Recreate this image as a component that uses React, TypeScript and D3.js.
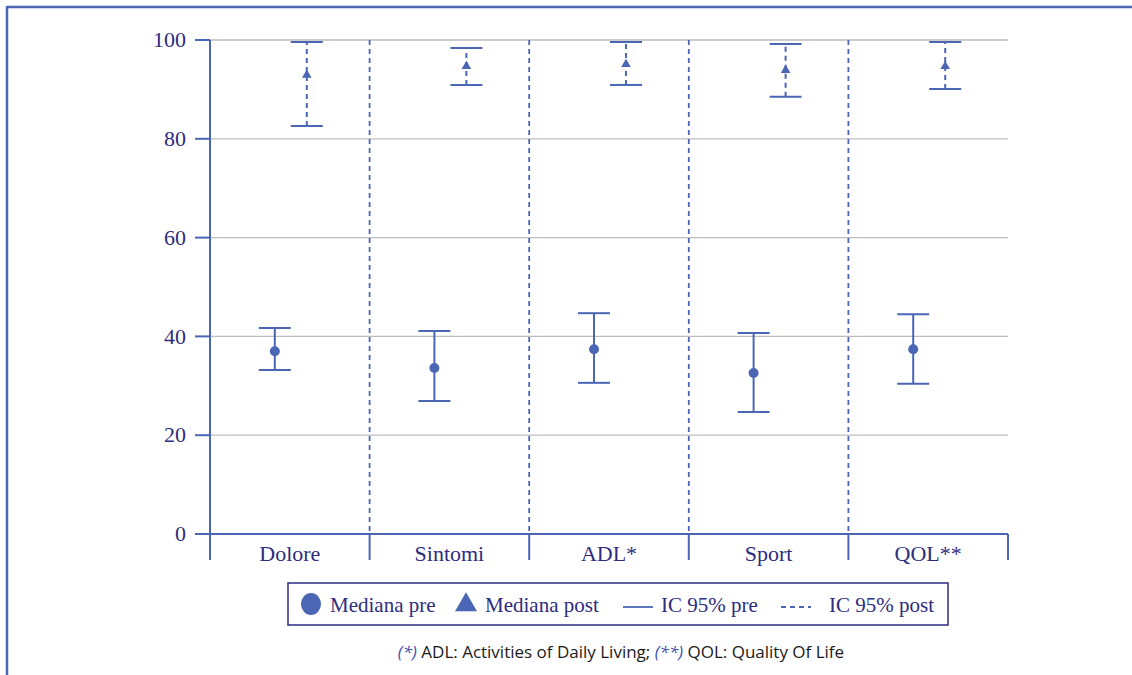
import React from "react";
import * as d3 from "d3";

const categories = ["Dolore", "Sintomi", "ADL*", "Sport", "QOL**"];
const preMedian = [37.0, 33.6, 37.4, 32.6, 37.4];
const preLow = [33.2, 26.9, 30.6, 24.7, 30.4];
const preHigh = [41.7, 41.1, 44.7, 40.7, 44.5];
const postMedian = [92.9, 94.7, 95.1, 93.9, 94.7];
const postLow = [82.6, 90.9, 90.9, 88.5, 90.1];
const postHigh = [99.6, 98.4, 99.6, 99.2, 99.6];
const yTicks = [0, 20, 40, 60, 80, 100];

const LINE = "#4a66b4";
const TEXT = "#2e2c80";
const SERIF = "Liberation Serif, Times New Roman, DejaVu Serif, serif";

export default function App() {
  const W = 1132, H = 675;
  const left = 210, right = 1008, top = 40, bottom = 534;
  const x = d3.scaleBand<string>().domain(categories).range([left, right]);
  const y = d3.scaleLinear().domain([0, 100]).range([bottom, top]);
  const bw = x.bandwidth();
  const preOff = bw * 0.5 - 15;
  const postOff = bw * 0.5 + 17;
  const cap = 16;
  const tri = d3.symbol().type(d3.symbolTriangle).size(40)() as string;
  const triLeg = d3.symbol().type(d3.symbolTriangle).size(210)() as string;

  return (
    <svg width={W} height={H} style={{ position: "absolute", left: 0, top: 0 }}>
      <rect width={W} height={H} fill="#fff" />
      <line x1={7} x2={W} y1={7} y2={7} stroke={LINE} strokeWidth={2.5} />
      <line x1={7} x2={7} y1={6} y2={H} stroke={LINE} strokeWidth={2.5} />
      {yTicks.filter(t => t > 0).map(t => (
        <line key={t} x1={left} x2={right} y1={y(t)} y2={y(t)} stroke="#bdbdbd" strokeWidth={1.3} />
      ))}
      {categories.slice(1).map(c => (
        <line key={c} x1={x(c)!} x2={x(c)!} y1={top} y2={bottom} stroke={LINE} strokeWidth={1.8} strokeDasharray="5,4" />
      ))}
      <line x1={left} x2={left} y1={top} y2={560} stroke={LINE} strokeWidth={2} />
      <line x1={195} x2={right} y1={bottom} y2={bottom} stroke={LINE} strokeWidth={2} />
      {categories.slice(1).map(c => (
        <line key={c} x1={x(c)!} x2={x(c)!} y1={bottom} y2={560} stroke={LINE} strokeWidth={2} />
      ))}
      <line x1={right} x2={right} y1={bottom} y2={560} stroke={LINE} strokeWidth={2} />
      {yTicks.map(t => (
        <g key={t}>
          <line x1={195} x2={left} y1={y(t)} y2={y(t)} stroke={LINE} strokeWidth={2} />
          <text x={186} y={y(t)} dy="0.33em" textAnchor="end" style={{ fontFamily: SERIF }} fontSize={22} fill={TEXT}>{t}</text>
        </g>
      ))}
      {categories.map(c => (
        <text key={c} x={x(c)! + bw / 2} y={561} textAnchor="middle" style={{ fontFamily: SERIF }} fontSize={22} fill={TEXT}>{c}</text>
      ))}
      {categories.map((c, i) => {
        const cx = x(c)! + preOff;
        return (
          <g key={c}>
            <line x1={cx} x2={cx} y1={y(preLow[i])} y2={y(preHigh[i])} stroke={LINE} strokeWidth={2} />
            <line x1={cx - cap} x2={cx + cap} y1={y(preLow[i])} y2={y(preLow[i])} stroke={LINE} strokeWidth={2} />
            <line x1={cx - cap} x2={cx + cap} y1={y(preHigh[i])} y2={y(preHigh[i])} stroke={LINE} strokeWidth={2} />
            <circle cx={cx} cy={y(preMedian[i])} r={5} fill={LINE} />
          </g>
        );
      })}
      {categories.map((c, i) => {
        const cx = x(c)! + postOff;
        return (
          <g key={c}>
            <line x1={cx} x2={cx} y1={y(postLow[i])} y2={y(postHigh[i])} stroke={LINE} strokeWidth={2} strokeDasharray="5,4" />
            <line x1={cx - cap} x2={cx + cap} y1={y(postLow[i])} y2={y(postLow[i])} stroke={LINE} strokeWidth={2} />
            <line x1={cx - cap} x2={cx + cap} y1={y(postHigh[i])} y2={y(postHigh[i])} stroke={LINE} strokeWidth={2} />
            <path d={tri} transform={`translate(${cx},${y(postMedian[i])})`} fill={LINE} />
          </g>
        );
      })}
      <rect x={288} y={583} width={660} height={42} fill="#fff" stroke={TEXT} strokeWidth={1.5} />
      <ellipse cx={311} cy={604} rx={10} ry={11} fill={LINE} />
      <text x={330} y={612} style={{ fontFamily: SERIF }} fontSize={21} fill={TEXT}>Mediana pre</text>
      <path d={triLeg} transform={`translate(466,605)`} fill={LINE} />
      <text x={485} y={612} style={{ fontFamily: SERIF }} fontSize={21} fill={TEXT}>Mediana post</text>
      <line x1={623} x2={653} y1={607} y2={607} stroke={LINE} strokeWidth={1.8} />
      <text x={661} y={612} style={{ fontFamily: SERIF }} fontSize={21} fill={TEXT}>IC 95% pre</text>
      <line x1={781} x2={811} y1={607} y2={607} stroke={LINE} strokeWidth={1.8} strokeDasharray="5,4" />
      <text x={829} y={612} style={{ fontFamily: SERIF }} fontSize={21} fill={TEXT}>IC 95% post</text>
      <text x={621} y={658} textAnchor="middle" style={{ fontFamily: "Open Sans, Noto Sans, sans-serif" }} fontSize={17} fill="#1a1a1a">
        <tspan fill="#3b4fae" fontStyle="italic">(*)</tspan> ADL:  Activities of Daily Living; <tspan fill="#3b4fae" fontStyle="italic">(**)</tspan> QOL: Quality Of Life
      </text>
    </svg>
  );
}
